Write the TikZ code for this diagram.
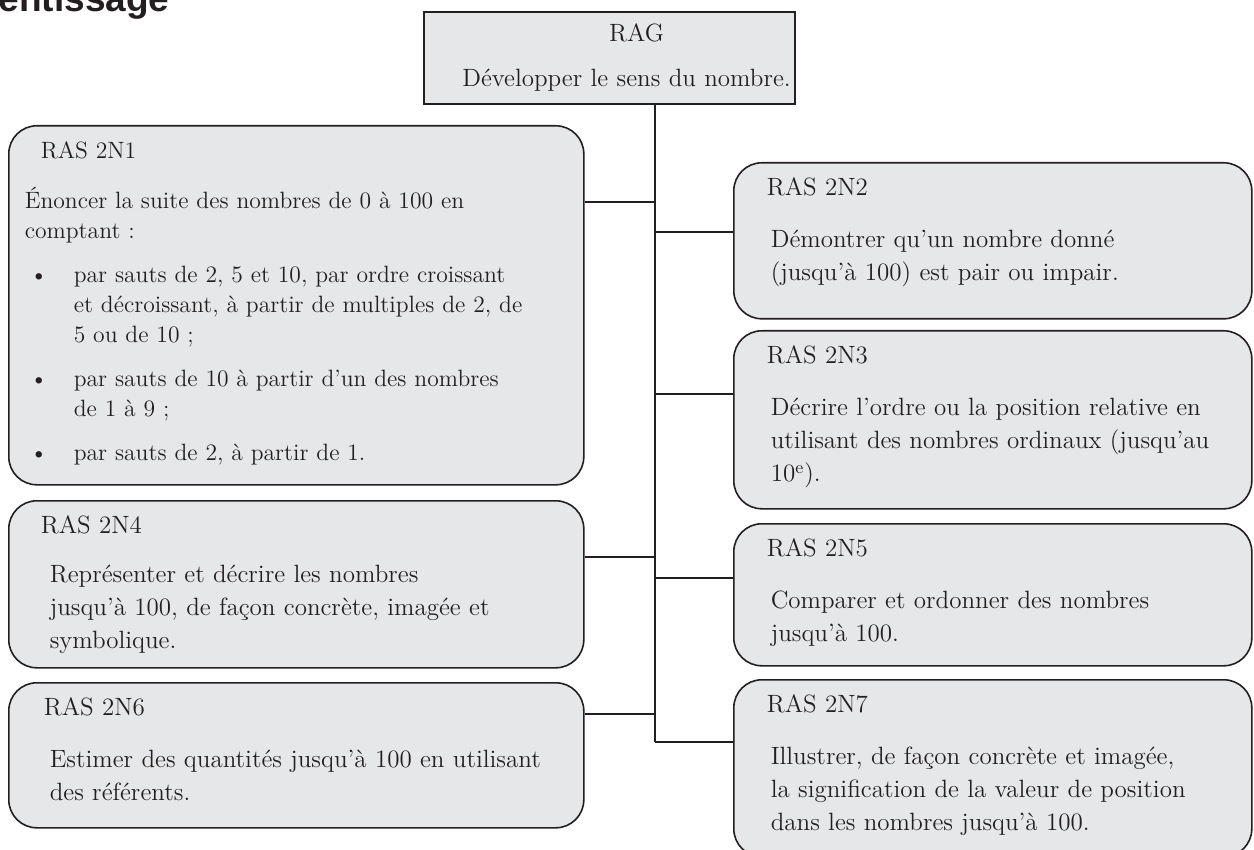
\documentclass[tikz,border=0pt]{standalone}
\usepackage{fontspec}
\usepackage{tikz}
\usepackage{xcolor}

\newfontfamily\headfont{Liberation Sans}
\definecolor{boxgray}{HTML}{E6E7E8}
\definecolor{ink}{HTML}{231F20}

\begin{document}
\begin{tikzpicture}[x=0.5pt, y=-0.5pt, line width=0.8pt, color=ink,
	ras/.style={draw, fill=boxgray, rounded corners=14pt, anchor=north west, align=left, inner ysep=0pt, text height=16.5pt, font=\fontsize{12.5}{16.5}\selectfont},
	rasleft/.style={ras, minimum width=287.5pt, inner xsep=20.5pt, text width=246.5pt},
	rasright/.style={ras, minimum width=259pt, inner xsep=18.5pt, text width=222pt}]
	\useasboundingbox (0, 0) rectangle (1254, 850);

	\node[anchor=base west, inner sep=0pt, font=\headfont\bfseries\fontsize{18.5}{20}\selectfont] (title) at (-2, 12) {entissage};

	\node[draw, fill=boxgray, minimum width=185.5pt, minimum height=46pt, text width=185.5pt, inner xsep=0pt, align=center, font=\fontsize{12.5}{22.5}\selectfont] (rag) at (609.5, 58) {\hspace*{27pt}RAG\\\hspace*{17pt}Développer le sens du nombre.};

	\node[rasleft, text depth=163pt, inner xsep=8pt, text width=271.5pt, font=\fontsize{11.8}{15}\selectfont] (n1) at (8, 125) {\hspace*{8pt}RAS 2N1\\[10pt]
		Énoncer la suite des nombres de 0 à 100 en\\
		comptant :\\[7pt]
		\makebox[24.5pt][l]{\hspace*{2.5pt}\textbullet}par sauts de 2, 5 et 10, par ordre croissant\\
		\hspace*{24.5pt}et décroissant, à partir de multiples de 2, de\\
		\hspace*{24.5pt}5 ou de 10 ;\\[7pt]
		\makebox[24.5pt][l]{\hspace*{2.5pt}\textbullet}par sauts de 10 à partir d’un des nombres\\
		\hspace*{24.5pt}de 1 à 9 ;\\[7pt]
		\makebox[24.5pt][l]{\hspace*{2.5pt}\textbullet}par sauts de 2, à partir de 1.};
	\node[rasright, text depth=61.5pt] (n2) at (733, 162) {\hspace*{-2pt}RAS 2N2\\[9.5pt]
		Démontrer qu’un nombre donné\\
		(jusqu’à 100) est pair ou impair.};
	\node[rasright, text depth=72.5pt] (n3) at (733, 330) {\hspace*{-2pt}RAS 2N3\\[9.5pt]
		Décrire l’ordre ou la position relative en\\
		utilisant des nombres ordinaux (jusqu’au\\
		10\textsuperscript{e}).};
	\node[rasleft, text depth=67pt] (n4) at (8, 500) {\hspace*{-4.5pt}RAS 2N4\\[8pt]
		Représenter et décrire les nombres\\
		jusqu’à 100, de façon concrète, imagée et\\
		symbolique.};
	\node[rasright, text depth=54.5pt] (n5) at (733, 523) {\hspace*{-2pt}RAS 2N5\\[9.5pt]
		Comparer et ordonner des nombres\\
		jusqu’à 100.};
	\node[rasleft, text depth=56pt] (n6) at (8, 682) {\hspace*{-3pt}RAS 2N6\\[9.5pt]
		Estimer des quantités jusqu’à 100 en utilisant\\
		des référents.};
	\node[rasright, text depth=72pt] (n7) at (733, 679) {\hspace*{-2pt}RAS 2N7\\[9.5pt]
		Illustrer, de façon concrète et imagée,\\
		la signification de la valeur de position\\
		dans les nombres jusqu’à 100.};

	\coordinate (j1) at (655, 202);
	\coordinate (j2) at (655, 232);
	\coordinate (j3) at (655, 394);
	\coordinate (j4) at (655, 557);
	\coordinate (j5) at (655, 578);
	\coordinate (j6) at (655, 714);
	\coordinate (j7) at (655, 742);

	\draw (rag.south -| j1) -- (j7);
	\draw (j1) -- (j1 -| n1.east);
	\draw (j2) -- (j2 -| n2.west);
	\draw (j3) -- (j3 -| n3.west);
	\draw (j4) -- (j4 -| n4.east);
	\draw (j5) -- (j5 -| n5.west);
	\draw (j6) -- (j6 -| n6.east);
	\draw (j7) -- (j7 -| n7.west);
\end{tikzpicture}
\end{document}
